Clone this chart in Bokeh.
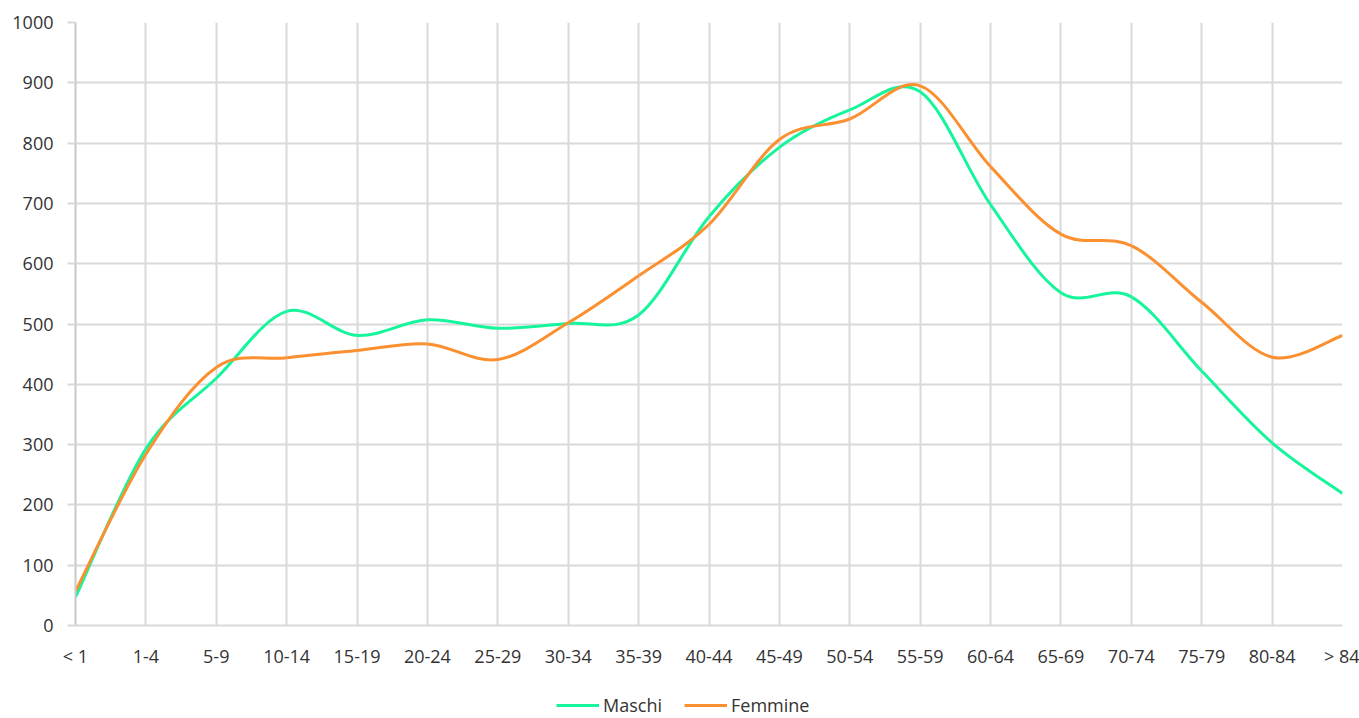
from bokeh.plotting import figure
from bokeh.models import Range1d, FixedTicker, Legend, LegendItem
from bokeh.layouts import column
from bokeh.embed import file_html
from bokeh.resources import INLINE

categories = ["< 1", "1-4", "5-9", "10-14", "15-19", "20-24", "25-29", "30-34", "35-39",
              "40-44", "45-49", "50-54", "55-59", "60-64", "65-69", "70-74", "75-79",
              "80-84", "> 84"]
maschi = [47, 293, 410, 521, 481, 507, 493, 501, 515, 678, 793, 855, 885, 698, 552,
          545, 422, 303, 219]
femmine = [57, 284, 428, 444, 456, 467, 441, 502, 580, 665, 806, 840, 895, 761, 649,
           630, 536, 445, 481]
series_names = ["Maschi", "Femmine"]
y_ticks = list(range(0, 1001, 100))

GREEN = "#16F59B"
ORANGE = "#FB9030"
FONT = "Open Sans"
TXT = "#333333"
GRID = "#d9d9d9"
FS = "18px"

p = figure(frame_width=1267, frame_height=603, output_backend="svg", toolbar_location=None,
           x_range=Range1d(0, len(categories) - 1), y_range=Range1d(0, 1000),
           min_border_left=75, min_border_right=17, min_border_top=22,
           min_border_bottom=50)
p.outline_line_color = None
p.background_fill_color = "white"
p.border_fill_color = "white"


def bez(vals):
    n = len(vals)
    xs = list(range(n))
    d = dict(x0=[], y0=[], x1=[], y1=[], cx0=[], cy0=[], cx1=[], cy1=[])
    for i in range(n - 1):
        i0 = max(i - 1, 0)
        i3 = min(i + 2, n - 1)
        d["x0"].append(xs[i]); d["y0"].append(vals[i])
        d["x1"].append(xs[i + 1]); d["y1"].append(vals[i + 1])
        d["cx0"].append(xs[i] + (xs[i + 1] - xs[i0]) / 6)
        d["cy0"].append(vals[i] + (vals[i + 1] - vals[i0]) / 6)
        d["cx1"].append(xs[i + 1] - (xs[i3] - xs[i]) / 6)
        d["cy1"].append(vals[i + 1] - (vals[i3] - vals[i]) / 6)
    return d


p.bezier(source=bez(maschi), x0="x0", y0="y0", x1="x1", y1="y1",
         cx0="cx0", cy0="cy0", cx1="cx1", cy1="cy1",
         line_color=GREEN, line_width=3)
p.bezier(source=bez(femmine), x0="x0", y0="y0", x1="x1", y1="y1",
         cx0="cx0", cy0="cy0", cx1="cx1", cy1="cy1",
         line_color=ORANGE, line_width=3)

# axes
p.xaxis.ticker = FixedTicker(ticks=list(range(len(categories))))
p.xaxis.major_label_overrides = {i: c for i, c in enumerate(categories)}
p.xaxis.major_tick_line_color = None
p.xaxis.major_tick_out = 0
p.xaxis.major_tick_in = 0
p.xaxis.minor_tick_line_color = None
p.xaxis.minor_tick_out = 0
p.xaxis.axis_line_color = GRID
p.xaxis.axis_line_width = 2
p.xaxis.major_label_standoff = 18
p.xaxis.major_label_text_font = FONT
p.xaxis.major_label_text_font_size = FS
p.xaxis.major_label_text_color = TXT

p.yaxis.ticker = FixedTicker(ticks=y_ticks)
p.yaxis.major_tick_out = 8
p.yaxis.major_tick_in = 0
p.yaxis.major_tick_line_color = GRID
p.yaxis.major_tick_line_width = 2
p.yaxis.minor_tick_line_color = None
p.yaxis.axis_line_color = "#c8c8c8"
p.yaxis.axis_line_width = 2
p.yaxis.major_label_standoff = 14
p.yaxis.major_label_text_font = FONT
p.yaxis.major_label_text_font_size = FS
p.yaxis.major_label_text_color = TXT

p.xgrid.ticker = FixedTicker(ticks=list(range(len(categories))))
p.xgrid.grid_line_color = GRID
p.xgrid.grid_line_width = 2
p.ygrid.ticker = FixedTicker(ticks=y_ticks)
p.ygrid.grid_line_color = GRID
p.ygrid.grid_line_width = 2

# legend strip below the chart (series lines lie outside its 0..1 range, only the legend shows)
lg = figure(width=1359, height=43, output_backend="svg", toolbar_location=None,
            x_range=Range1d(0, 1), y_range=Range1d(0, 1),
            x_axis_location=None, y_axis_location=None, min_border=0)
lg.outline_line_color = None
lg.xgrid.visible = False
lg.ygrid.visible = False
xs = list(range(len(categories)))
r1 = lg.line(x=xs, y=maschi, line_color=GREEN, line_width=3)
r2 = lg.line(x=xs, y=femmine, line_color=ORANGE, line_width=3)
legend = Legend(items=[LegendItem(label=series_names[0], renderers=[r1]),
                       LegendItem(label=series_names[1], renderers=[r2])],
                orientation="horizontal", location=(481, 1),
                label_text_font=FONT, label_text_font_size=FS,
                label_text_color=TXT, glyph_width=43, glyph_height=16,
                label_height=16, label_standoff=4, spacing=22,
                border_line_color=None, background_fill_alpha=0,
                padding=0, margin=0)
lg.add_layout(legend)

layout = column(p, lg, spacing=0)
open("out.html", "w").write(file_html(layout, INLINE))
